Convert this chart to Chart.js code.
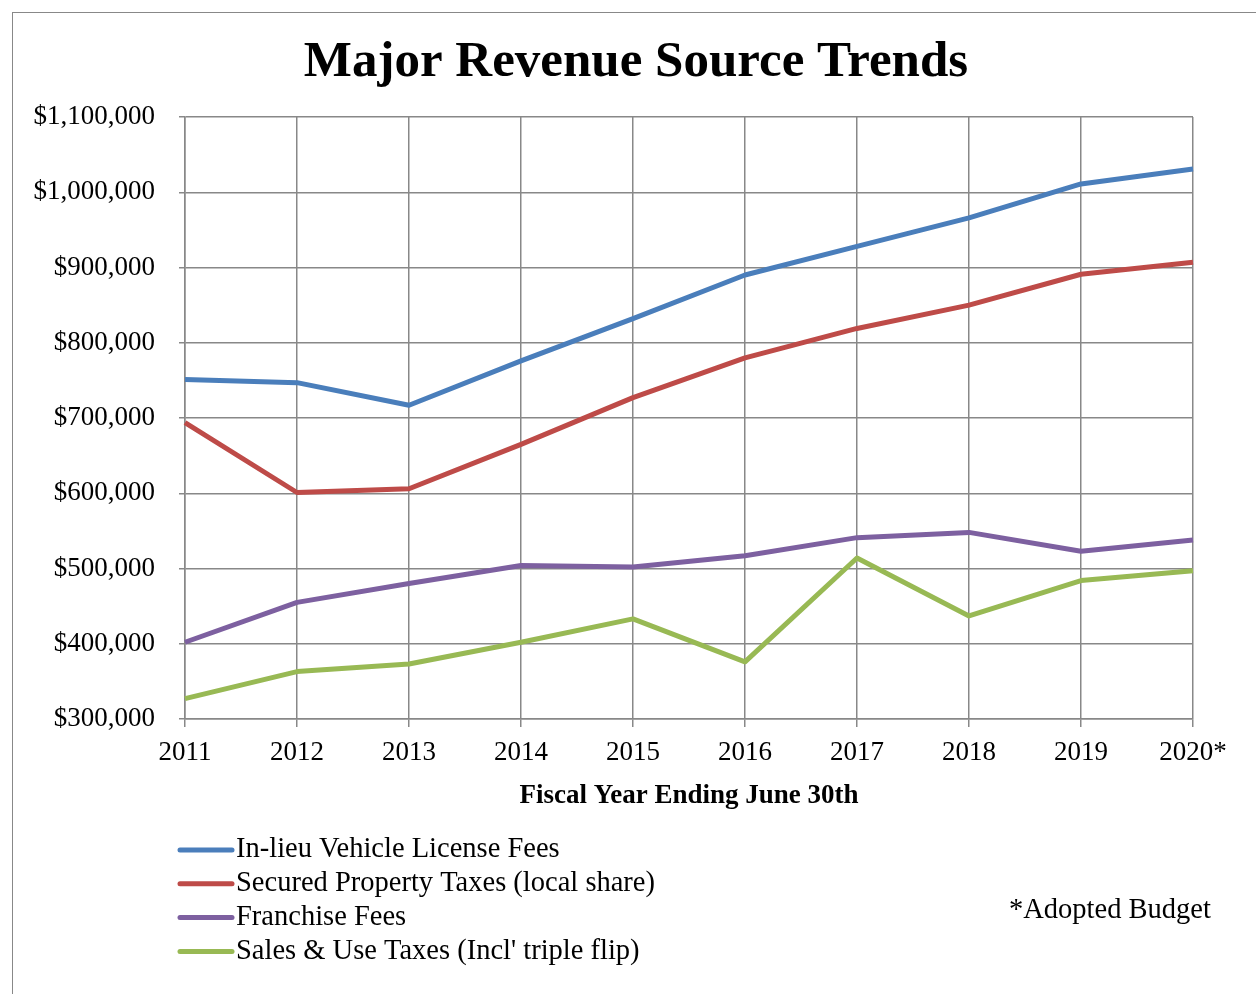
<!DOCTYPE html>
<html>
<head>
<meta charset="utf-8">
<script src="https://cdn.jsdelivr.net/npm/chart.js@4"></script>
<style>
  body { margin: 0; background: #fff; }
  #frame { position: absolute; left: 12px; top: 12px; width: 1260px; height: 1000px; border: 1.5px solid #888; box-sizing: border-box; }
  #wrap { position: absolute; left: 0; top: 0; width: 1244px; height: 982px; }
</style>
</head>
<body>
<div id="frame"><div id="wrap"><canvas id="revChart" width="1244" height="982"></canvas></div></div>
<script>
var years = ["2011", "2012", "2013", "2014", "2015", "2016", "2017", "2018", "2019", "2020*"];
var vehicleFees = [751000, 747000, 717000, 776000, 832000, 890000, 928000, 966000, 1011000, 1031000];
var propertyTaxes = [694000, 601000, 606000, 665000, 727000, 780000, 819000, 850000, 891000, 907000];
var franchiseFees = [402000, 455000, 480000, 504000, 502000, 517000, 541000, 548000, 523000, 538000];
var salesTaxes = [327000, 363000, 373000, 402000, 433000, 376000, 514000, 437000, 484000, 497000];
var yTicks = [300000, 400000, 500000, 600000, 700000, 800000, 900000, 1000000, 1100000];

var serif = "'Liberation Serif', 'Times New Roman', serif";

function dollars(v) {
    return "$" + v.toString().replace(/\B(?=(\d{3})+(?!\d))/g, ",");
}

// title, legend column at the bottom left, and the footnote
var sideNotes = {
    id: "sideNotes",
    afterDraw: function (chart) {
        var c = chart.ctx;
        c.save();
        c.fillStyle = "#000";
        c.textAlign = "center";
        c.textBaseline = "middle";
        c.font = "bold 51px " + serif;
        c.fillText("Major Revenue Source Trends", 623, 50);

        c.textAlign = "left";
        c.font = "28.5px " + serif;
        chart.data.datasets.forEach(function (ds, i) {
            var y = 837 + i * 33.8;
            c.strokeStyle = ds.borderColor;
            c.lineWidth = 5;
            c.lineCap = "round";
            c.beginPath();
            c.moveTo(167, y);
            c.lineTo(219, y);
            c.stroke();
            c.fillText(ds.label, 223, y);
        });
        c.fillText("*Adopted Budget", 996, 898);
        c.restore();
    }
};

var ctx = document.getElementById("revChart").getContext("2d");
new Chart(ctx, {
    type: "line",
    data: {
        labels: years,
        datasets: [
            { label: "In-lieu Vehicle License Fees", data: vehicleFees, borderColor: "#4A7EBB" },
            { label: "Secured Property Taxes (local share)", data: propertyTaxes, borderColor: "#BE4B48" },
            { label: "Franchise Fees", data: franchiseFees, borderColor: "#7D60A0" },
            { label: "Sales & Use Taxes (Incl' triple flip)", data: salesTaxes, borderColor: "#98B954" }
        ]
    },
    options: {
        responsive: false,
        animation: false,
        layout: { padding: { left: 0, right: 64, top: 104, bottom: 176 } },
        elements: {
            line: { borderWidth: 5, tension: 0, borderJoinStyle: "round" },
            point: { radius: 0, hoverRadius: 0 }
        },
        plugins: {
            legend: { display: false },
            tooltip: { enabled: false },
            title: { display: false }
        },
        scales: {
            x: {
                offset: false,
                grid: { color: "#888", lineWidth: 1.5, tickLength: 8, drawTicks: true },
                border: { color: "#888", width: 1.5 },
                ticks: { color: "#000", font: { family: serif, size: 27 }, maxRotation: 0, padding: 10 },
                title: {
                    display: true,
                    text: "Fiscal Year Ending June 30th",
                    color: "#000",
                    font: { family: serif, size: 27, weight: "bold" },
                    padding: { top: 0, bottom: 7 }
                },
                afterFit: function (s) { s.height = 100; }
            },
            y: {
                min: 300000,
                max: 1100000,
                afterBuildTicks: function (s) { s.ticks = yTicks.map(function (v) { return { value: v }; }); },
                grid: { color: "#888", lineWidth: 1.5, tickLength: 6 },
                border: { color: "#888", width: 1.5 },
                ticks: { color: "#000", font: { family: serif, size: 27 }, padding: 24, callback: function (v) { return dollars(v); } },
                afterFit: function (s) { s.width = 172; }
            }
        }
    },
    plugins: [sideNotes]
});
</script>
</body>
</html>
